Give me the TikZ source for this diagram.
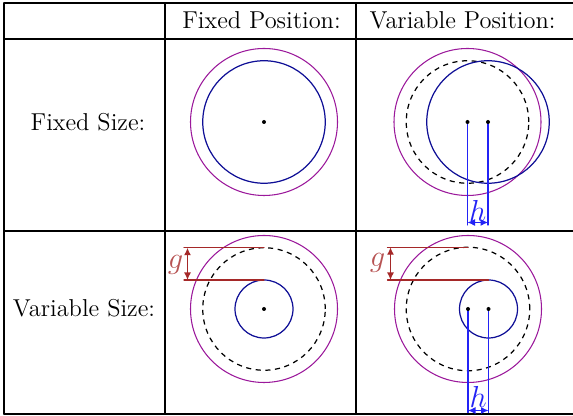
\documentclass[tikz,border=0pt]{standalone}
\usetikzlibrary{arrows.meta}

\definecolor{ringpurple}{RGB}{155,25,155}
\definecolor{discblue}{RGB}{15,15,150}
\definecolor{gapred}{RGB}{165,40,40}
\definecolor{shiftblue}{RGB}{35,35,245}

\begin{document}
\begin{tikzpicture}[line cap=round,line join=round,
    tab/.style={line width=0.8pt},
    ring/.style={draw=ringpurple,line width=0.6pt},
    disc/.style={draw=discblue,line width=0.7pt},
    ghost/.style={draw=black,line width=0.7pt,dash pattern=on 2.9pt off 2.6pt,line cap=butt},
    sizedim/.style={draw=gapred,line width=0.7pt},
    movedim/.style={draw=shiftblue,line width=0.6pt},
    dimtip/.style={{Latex[length=1.5mm,width=1.4mm]}-{Latex[length=1.5mm,width=1.4mm]}},
    lab/.style={font=\fontsize{13.9}{16}\selectfont,inner sep=0pt},
    dimlab/.style={font=\fontsize{16}{19}\selectfont,inner sep=0pt}]
  \useasboundingbox (0,0) rectangle (11.46,8.32);
  % table
  \draw[tab] (0.08,8.26) -- (11.46,8.26);
  \draw[tab] (0.08,7.54) -- (11.46,7.54);
  \draw[tab] (0.08,3.70) -- (11.46,3.70);
  \draw[tab] (0.08,0.04) -- (11.46,0.04);
  \draw[tab] (0.08,8.26) -- (0.08,0.04);
  \draw[tab] (3.30,8.26) -- (3.30,0.04);
  \draw[tab] (7.12,8.26) -- (7.12,0.04);
  \node[lab] (fixpos) at (5.23,7.91) {Fixed Position:};
  \node[lab] (varpos) at (9.25,7.91) {Variable Position:};
  \node[lab] (fixsize) at (1.76,5.88) {Fixed Size:};
  \node[lab] (varsize) at (1.68,2.16) {Variable Size:};
  % centres
  \coordinate (A) at (5.28,5.88);
  \coordinate (B) at (9.35,5.88);
  \coordinate (Bs) at (9.76,5.88);
  \coordinate (C) at (5.28,2.14);
  \coordinate (D) at (9.36,2.14);
  \coordinate (Ds) at (9.77,2.14);
  % fixed size, fixed position
  \draw[ring] (A) circle (1.47);
  \draw[disc] (A) circle (1.225);
  \fill (A) circle (0.04);
  % fixed size, variable position
  \draw[ring] (B) circle (1.47);
  \draw[ghost] (B) circle (1.225);
  \draw[disc] (Bs) circle (1.225);
  \coordinate (Bh) at (9.35,3.82);
  \coordinate (Bsh) at (9.76,3.82);
  \coordinate (Ba) at (9.35,3.87);
  \coordinate (Bsa) at (9.76,3.87);
  \draw[movedim] (B) -- (Bh);
  \draw[movedim] (Bs) -- (Bsh);
  \draw[movedim,dimtip] (Ba) -- (Bsa);
  \fill (B) circle (0.04);
  \fill (Bs) circle (0.04);
  \node[dimlab,text=shiftblue] (hB) at (9.555,4.10) {$h$};
  % variable size, fixed position
  \draw[ring] (C) circle (1.47);
  \draw[ghost] (C) circle (1.225);
  \draw[disc] (C) circle (0.58);
  \fill (C) circle (0.04);
  \coordinate (Ct) at (5.28,3.365);
  \coordinate (Cb) at (5.28,2.72);
  \coordinate (Ctl) at (3.68,3.365);
  \coordinate (Cbl) at (3.68,2.72);
  \coordinate (Cta) at (3.75,3.365);
  \coordinate (Cba) at (3.75,2.72);
  \draw[sizedim] (Ct) -- (Ctl);
  \draw[sizedim] (Cb) -- (Cbl);
  \draw[sizedim,dimtip] (Cta) -- (Cba);
  \node[dimlab,text=gapred!80] (gC) at (3.51,3.02) {$g$};
  % variable size, variable position
  \draw[ring] (D) circle (1.47);
  \draw[ghost] (D) circle (1.235);
  \draw[disc] (Ds) circle (0.58);
  \coordinate (Dt) at (9.36,3.375);
  \coordinate (Db) at (9.77,2.72);
  \coordinate (Dtl) at (7.75,3.375);
  \coordinate (Dbl) at (7.75,2.72);
  \coordinate (Dta) at (7.81,3.375);
  \coordinate (Dba) at (7.81,2.72);
  \draw[sizedim] (Dt) -- (Dtl);
  \draw[sizedim] (Db) -- (Dbl);
  \draw[sizedim,dimtip] (Dta) -- (Dba);
  \node[dimlab,text=gapred!80] (gD) at (7.55,3.06) {$g$};
  \coordinate (Dh) at (9.36,0.07);
  \coordinate (Dsh) at (9.77,0.07);
  \coordinate (Da) at (9.36,0.11);
  \coordinate (Dsa) at (9.77,0.11);
  \draw[movedim] (D) -- (Dh);
  \draw[movedim] (Ds) -- (Dsh);
  \draw[movedim,dimtip] (Da) -- (Dsa);
  \fill (D) circle (0.04);
  \fill (Ds) circle (0.04);
  \node[dimlab,text=shiftblue] (hD) at (9.565,0.39) {$h$};
\end{tikzpicture}
\end{document}
